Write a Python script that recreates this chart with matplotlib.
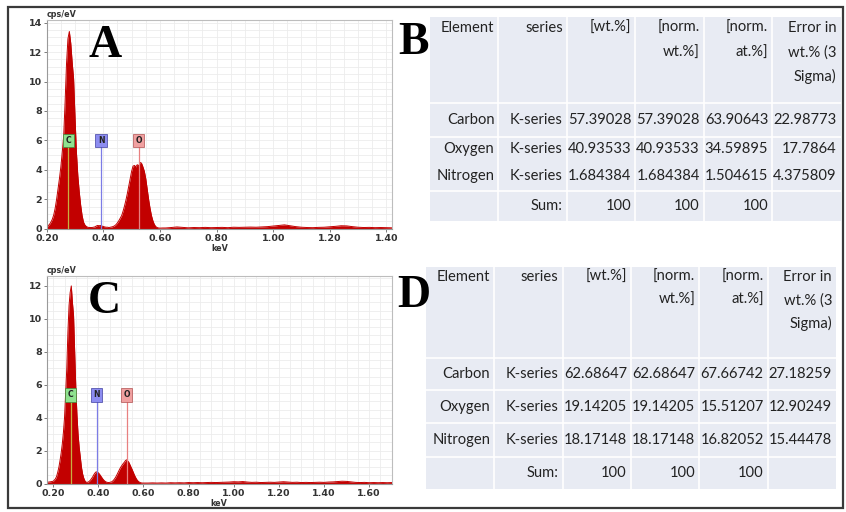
import matplotlib
matplotlib.use("Agg")
import matplotlib.pyplot as plt
from matplotlib.patches import Rectangle
from matplotlib.ticker import MultipleLocator

# ---------------- data ----------------
energy_A = [0.200, 0.205, 0.210, 0.215, 0.220, 0.225, 0.230, 0.235, 0.240, 0.245,
            0.250, 0.255, 0.260, 0.265, 0.270, 0.275, 0.280, 0.285, 0.290, 0.295,
            0.300, 0.305, 0.310, 0.315, 0.320, 0.325, 0.330, 0.335, 0.340, 0.345,
            0.350, 0.355, 0.360, 0.365, 0.370, 0.375, 0.380, 0.385, 0.390, 0.395,
            0.400, 0.405, 0.410, 0.415, 0.420, 0.425, 0.430, 0.435, 0.440, 0.445,
            0.450, 0.455, 0.460, 0.465, 0.470, 0.475, 0.480, 0.485, 0.490, 0.495,
            0.500, 0.505, 0.510, 0.515, 0.520, 0.525, 0.530, 0.535, 0.540, 0.545,
            0.550, 0.555, 0.560, 0.565, 0.570, 0.575, 0.580, 0.585, 0.590, 0.595,
            0.600, 0.610, 0.620, 0.640, 0.660, 0.680, 0.700, 0.720, 0.740, 0.760,
            0.780, 0.800, 0.820, 0.840, 0.860, 0.880, 0.900, 0.920, 0.940, 0.960,
            0.980, 1.000, 1.020, 1.040, 1.060, 1.080, 1.100, 1.120, 1.140, 1.160,
            1.180, 1.200, 1.220, 1.240, 1.260, 1.280, 1.300, 1.320, 1.340, 1.360,
            1.380, 1.400, 1.420]
cps_A = [0.15, 0.20, 0.30, 0.45, 0.65, 0.95, 1.40, 2.00, 2.70, 3.40,
         4.20, 5.20, 6.30, 8.60, 11.2, 12.9, 13.4, 12.6, 11.3, 10.2,
         7.60, 5.20, 3.60, 2.50, 1.60, 0.90, 0.45, 0.25, 0.15, 0.10,
         0.08, 0.08, 0.08, 0.10, 0.12, 0.18, 0.22, 0.20, 0.22, 0.18,
         0.15, 0.12, 0.10, 0.10, 0.08, 0.10, 0.12, 0.15, 0.20, 0.28,
         0.40, 0.55, 0.72, 0.90, 1.20, 1.55, 1.95, 2.40, 2.90, 3.40,
         3.90, 4.25, 4.30, 4.20, 4.35, 4.25, 4.50, 4.45, 4.20, 3.90,
         3.40, 2.70, 2.00, 1.40, 0.90, 0.55, 0.30, 0.15, 0.08, 0.05,
         0.04, 0.05, 0.05, 0.08, 0.12, 0.09, 0.06, 0.08, 0.07, 0.09,
         0.07, 0.08, 0.09, 0.07, 0.10, 0.09, 0.10, 0.11, 0.10, 0.12,
         0.14, 0.18, 0.22, 0.26, 0.20, 0.14, 0.10, 0.08, 0.07, 0.09,
         0.10, 0.13, 0.16, 0.20, 0.19, 0.14, 0.10, 0.08, 0.09, 0.07,
         0.08, 0.07, 0.06]

energy_C = [0.170, 0.180, 0.190, 0.200, 0.205, 0.210, 0.215, 0.220, 0.225, 0.230,
            0.235, 0.240, 0.245, 0.250, 0.255, 0.260, 0.265, 0.270, 0.275, 0.280,
            0.285, 0.290, 0.295, 0.300, 0.305, 0.310, 0.315, 0.320, 0.325, 0.330,
            0.335, 0.340, 0.345, 0.350, 0.355, 0.360, 0.365, 0.370, 0.375, 0.380,
            0.385, 0.390, 0.395, 0.400, 0.405, 0.410, 0.415, 0.420, 0.425, 0.430,
            0.435, 0.440, 0.445, 0.450, 0.455, 0.460, 0.465, 0.470, 0.475, 0.480,
            0.485, 0.490, 0.495, 0.500, 0.505, 0.510, 0.515, 0.520, 0.525, 0.530,
            0.535, 0.540, 0.545, 0.550, 0.555, 0.560, 0.565, 0.570, 0.575, 0.580,
            0.585, 0.590, 0.595, 0.600, 0.620, 0.640, 0.660, 0.680, 0.700, 0.720,
            0.740, 0.760, 0.780, 0.800, 0.820, 0.840, 0.860, 0.880, 0.900, 0.920,
            0.940, 0.960, 0.980, 1.000, 1.020, 1.040, 1.060, 1.080, 1.100, 1.120,
            1.140, 1.160, 1.180, 1.200, 1.220, 1.240, 1.260, 1.280, 1.300, 1.320,
            1.340, 1.360, 1.380, 1.400, 1.420, 1.440, 1.460, 1.480, 1.500, 1.520,
            1.540, 1.560, 1.580, 1.600, 1.620, 1.640, 1.660, 1.680, 1.700]
cps_C = [0.08, 0.10, 0.12, 0.15, 0.22, 0.30, 0.45, 0.70, 1.00, 1.40,
         1.85, 2.40, 3.10, 4.00, 5.50, 7.00, 9.20, 10.8, 11.6, 12.0,
         11.0, 10.2, 8.00, 5.80, 4.20, 3.00, 2.20, 1.60, 1.00, 0.60,
         0.35, 0.18, 0.10, 0.08, 0.10, 0.15, 0.22, 0.32, 0.42, 0.55,
         0.65, 0.72, 0.70, 0.66, 0.58, 0.48, 0.38, 0.28, 0.20, 0.14,
         0.10, 0.08, 0.07, 0.08, 0.10, 0.12, 0.18, 0.26, 0.36, 0.48,
         0.62, 0.76, 0.90, 1.02, 1.12, 1.22, 1.30, 1.40, 1.45, 1.38,
         1.30, 1.15, 1.00, 0.85, 0.68, 0.52, 0.38, 0.26, 0.17, 0.11,
         0.07, 0.05, 0.04, 0.04, 0.04, 0.05, 0.04, 0.05, 0.04, 0.06,
         0.05, 0.06, 0.05, 0.07, 0.06, 0.07, 0.06, 0.07, 0.08, 0.07,
         0.08, 0.09, 0.10, 0.12, 0.11, 0.13, 0.10, 0.08, 0.09, 0.07,
         0.08, 0.09, 0.08, 0.10, 0.12, 0.10, 0.08, 0.09, 0.07, 0.08,
         0.07, 0.08, 0.09, 0.08, 0.10, 0.11, 0.13, 0.15, 0.14, 0.11,
         0.08, 0.07, 0.08, 0.06, 0.07, 0.06, 0.07, 0.06, 0.07]

line_elements = ["C", "N", "O"]
line_energy = [0.277, 0.392, 0.525]
label_y_A = 6.0
label_y_C = 5.4

xticks_A = [0.20, 0.40, 0.60, 0.80, 1.00, 1.20, 1.40]
yticks_A = [0, 2, 4, 6, 8, 10, 12, 14]
xticks_C = [0.20, 0.40, 0.60, 0.80, 1.00, 1.20, 1.40, 1.60]
yticks_C = [0, 2, 4, 6, 8, 10, 12]

table_cols = ["Element", "series", "[wt.%]", "[norm.\nwt.%]", "[norm.\nat.%]",
              "Error in\nwt.% (3\nSigma)"]
elements = ["Carbon", "Oxygen", "Nitrogen"]
series = ["K-series", "K-series", "K-series"]
B_wt = ["57.39028", "40.93533", "1.684384"]
B_norm_wt = ["57.39028", "40.93533", "1.684384"]
B_norm_at = ["63.90643", "34.59895", "1.504615"]
B_err = ["22.98773", "17.7864", "4.375809"]
D_wt = ["62.68647", "19.14205", "18.17148"]
D_norm_wt = ["62.68647", "19.14205", "18.17148"]
D_norm_at = ["67.66742", "15.51207", "16.82052"]
D_err = ["27.18259", "12.90249", "15.44478"]
sum_row = ["", "Sum:", "100", "100", "100", ""]

# ---------------- figure ----------------
W, H = 846, 512
fig = plt.figure(figsize=(W / 100, H / 100), dpi=100)
fig.patch.set_facecolor("white")


def px_axes(l, t, r, b, **kw):
    return fig.add_axes([l / W, 1 - b / H, (r - l) / W, (b - t) / H], **kw)


# outer border
fig.add_artist(Rectangle((8 / W, 1 - 508 / H), (843 - 8) / W, (508 - 7) / H,
                         transform=fig.transFigure, fill=False, ec="#3a3a3a", lw=1.6))

RED = "#c20000"
lab_fc = {"C": "#8fe28f", "N": "#8c8cf0", "O": "#f0a0a0"}
lab_ec = {"C": "#3c8c3c", "N": "#4040a0", "O": "#b05050"}
line_col = {"C": "#c8b040", "N": "#7c7ce6", "O": "#e88080"}


def spectrum(ax, E, cps, xlim, ylim, xt, yt, laby):
    ax.set_facecolor("white")
    ax.set_xlim(*xlim)
    ax.set_ylim(*ylim)
    ax.xaxis.set_minor_locator(MultipleLocator(0.05))
    ax.yaxis.set_minor_locator(MultipleLocator(0.5))
    ax.set_xticks(xt)
    ax.set_yticks(yt)
    ax.grid(which="both", color="#ececec", lw=0.6)
    ax.set_axisbelow(True)
    ax.set_xticklabels([f"{v:.2f}" for v in xt])
    ax.set_yticklabels([str(v) for v in yt])
    ax.tick_params(which="major", length=2, width=0.6, color="#666666", pad=1.5,
                   labelsize=6.8, labelcolor="#333333")
    ax.tick_params(which="minor", length=0)
    for lbl in ax.get_xticklabels() + ax.get_yticklabels():
        lbl.set_fontweight("bold")
    for s in ["top", "right"]:
        ax.spines[s].set_color("#bdbdbd")
        ax.spines[s].set_linewidth(0.8)
    for s in ["left", "bottom"]:
        ax.spines[s].set_color("#9a9a9a")
        ax.spines[s].set_linewidth(0.8)
    ax.fill_between(E, 0, cps, color=RED, lw=0, zorder=2)
    ax.plot(E, cps, color=RED, lw=0.7, zorder=2)
    for el, e in zip(line_elements, line_energy):
        ax.vlines(e, 0, laby, color=line_col[el], lw=0.9, zorder=3)
        ax.text(e, laby, el, ha="center", va="center", fontsize=5.6, fontweight="bold",
                color="#222222", zorder=4,
                bbox=dict(boxstyle="square,pad=0.3", fc=lab_fc[el], ec=lab_ec[el], lw=0.5))
    ax.text(0.0, 1.005, "cps/eV", transform=ax.transAxes, ha="left", va="bottom",
            fontsize=5.8, fontweight="bold", color="#333333")
    ax.set_xlabel("keV", fontsize=5.8, fontweight="bold", color="#333333", labelpad=1)


axA = px_axes(46.7, 20.0, 392.0, 228.7)
spectrum(axA, energy_A, cps_A, (0.20, 1.42), (0, 14.18), xticks_A, yticks_A, label_y_A)

axC = px_axes(46.7, 275.7, 391.7, 483.7)
spectrum(axC, energy_C, cps_C, (0.171, 1.70), (0, 12.62), xticks_C, yticks_C, label_y_C)

# panel letters
for txt, x, y in [("A", 105, 46), ("B", 413, 43), ("C", 104, 302), ("D", 414, 296)]:
    fig.text(x / W, 1 - y / H, txt, ha="center", va="center", fontsize=33,
             fontweight="bold", family="Liberation Serif", color="black")

TBL_BG = "#e8ebf3"
TXT = "#222222"
FONT = "Lato"
FS = 10.6


def draw_table(l, t, r, b, row_h, rows, sep_after, header_first, header_gap):
    ax = px_axes(l, t, r, b)
    ncol = len(table_cols)
    total = sum(row_h)
    ax.set_xlim(0, r - l)
    ax.set_ylim(b - t, 0)
    ax.axis("off")
    colw = (r - l) / ncol
    ax.add_patch(Rectangle((0, 0), r - l, b - t, fc=TBL_BG, ec="none"))
    scale = (b - t) / total
    for i in range(1, ncol):
        ax.plot([i * colw, i * colw], [0, b - t], color="white", lw=1.2)
    edges = [0]
    for h in row_h:
        edges.append(edges[-1] + h * scale)
    for k in sep_after:
        ax.plot([0, r - l], [edges[k], edges[k]], color="white", lw=1.2)
    pad = 4
    for i, name in enumerate(table_cols):
        for j, part in enumerate(name.split("\n")):
            ax.text((i + 1) * colw - pad, header_first + j * header_gap, part,
                    ha="right", va="center", fontsize=FS, family=FONT, color=TXT)
    for k, row in enumerate(rows):
        yc = (edges[k + 1] + edges[k + 2]) / 2
        for i, val in enumerate(row):
            ax.text((i + 1) * colw - pad, yc, val, ha="right", va="center",
                    fontsize=FS, family=FONT, color=TXT)
    return ax


rows_B = [[elements[i], series[i], B_wt[i], B_norm_wt[i], B_norm_at[i], B_err[i]]
          for i in range(3)] + [sum_row]
rows_D = [[elements[i], series[i], D_wt[i], D_norm_wt[i], D_norm_at[i], D_err[i]]
          for i in range(3)] + [sum_row]

draw_table(430, 16.7, 840.7, 220.7, [86.6, 33.4, 24, 30, 30], rows_B,
           sep_after=[1, 2, 4], header_first=11.6, header_gap=24.2)
draw_table(426, 266.7, 836, 489.3, [91.6, 31.7, 33.3, 34, 32], rows_D,
           sep_after=[1, 2, 3, 4], header_first=10.0, header_gap=23.6)

fig.savefig("out.png", dpi=100, facecolor="white")
